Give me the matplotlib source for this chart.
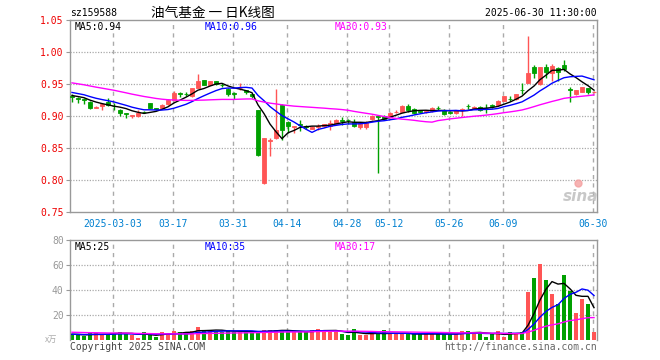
import matplotlib
matplotlib.use("Agg")
import matplotlib.pyplot as plt
from matplotlib.patches import Rectangle
import numpy as np

# ---------------- data ----------------
code = "sz159588"
title = "油气基金 一 日K线图"
stamp = "2025-06-30 11:30:00"

tick_labels = ["2025-03-03", "03-17", "03-31", "04-14", "04-28",
               "05-12", "05-26", "06-09", "06-30"]
tick_bars = [7, 17, 27, 36, 46, 53, 63, 72, 87]

opens = [0.931, 0.928, 0.926, 0.922, 0.913, 0.915, 0.922, 0.916, 0.910, 0.904,
         0.900, 0.900, 0.907, 0.920, 0.912, 0.912, 0.918, 0.925, 0.936, 0.935,
         0.931, 0.944, 0.956, 0.949, 0.954, 0.949, 0.942, 0.936, 0.943, 0.940,
         0.934, 0.909, 0.795, 0.861, 0.865, 0.917, 0.891, 0.883, 0.887, 0.884,
         0.880, 0.883, 0.884, 0.884, 0.888, 0.893, 0.894, 0.890, 0.883, 0.883,
         0.895, 0.900, 0.900, 0.898, 0.906, 0.907, 0.916, 0.911, 0.908, 0.907,
         0.908, 0.913, 0.910, 0.906, 0.904, 0.909, 0.916, 0.913, 0.914, 0.913,
         0.917, 0.917, 0.924, 0.927, 0.926, 0.941, 0.952, 0.977, 0.950, 0.976,
         0.967, 0.975, 0.980, 0.942, 0.934, 0.938, 0.943, 0.937]
highs = [0.934, 0.930, 0.928, 0.923, 0.915, 0.920, 0.928, 0.921, 0.911, 0.905,
         0.902, 0.909, 0.908, 0.921, 0.913, 0.918, 0.926, 0.939, 0.937, 0.937,
         0.944, 0.965, 0.957, 0.955, 0.955, 0.951, 0.943, 0.937, 0.951, 0.941,
         0.935, 0.910, 0.866, 0.865, 0.942, 0.918, 0.892, 0.885, 0.894, 0.886,
         0.884, 0.887, 0.888, 0.893, 0.896, 0.899, 0.896, 0.895, 0.890, 0.892,
         0.901, 0.902, 0.901, 0.906, 0.909, 0.917, 0.919, 0.912, 0.910, 0.910,
         0.914, 0.916, 0.911, 0.908, 0.910, 0.913, 0.918, 0.916, 0.915, 0.918,
         0.918, 0.925, 0.932, 0.931, 0.935, 0.951, 1.025, 0.980, 0.977, 0.982,
         0.982, 0.976, 0.987, 0.946, 0.941, 0.946, 0.944, 0.939]
lows = [0.922, 0.920, 0.918, 0.911, 0.912, 0.909, 0.915, 0.910, 0.900, 0.897,
        0.897, 0.898, 0.904, 0.912, 0.909, 0.911, 0.917, 0.924, 0.930, 0.931,
        0.930, 0.943, 0.948, 0.948, 0.949, 0.946, 0.931, 0.926, 0.941, 0.935,
        0.928, 0.838, 0.794, 0.838, 0.864, 0.862, 0.873, 0.873, 0.876, 0.880,
        0.879, 0.878, 0.883, 0.878, 0.887, 0.886, 0.887, 0.883, 0.880, 0.879,
        0.894, 0.811, 0.894, 0.897, 0.904, 0.906, 0.906, 0.903, 0.904, 0.905,
        0.907, 0.909, 0.902, 0.903, 0.903, 0.900, 0.911, 0.912, 0.908, 0.905,
        0.913, 0.916, 0.923, 0.923, 0.925, 0.934, 0.951, 0.959, 0.949, 0.959,
        0.954, 0.954, 0.970, 0.922, 0.933, 0.937, 0.935, 0.936]
closes = [0.930, 0.927, 0.925, 0.913, 0.914, 0.918, 0.917, 0.915, 0.905, 0.903,
          0.901, 0.905, 0.906, 0.913, 0.911, 0.917, 0.925, 0.936, 0.935, 0.934,
          0.943, 0.954, 0.949, 0.954, 0.950, 0.948, 0.934, 0.934, 0.944, 0.938,
          0.932, 0.839, 0.866, 0.862, 0.878, 0.878, 0.885, 0.884, 0.886, 0.883,
          0.883, 0.885, 0.888, 0.889, 0.893, 0.892, 0.893, 0.884, 0.889, 0.891,
          0.900, 0.899, 0.896, 0.904, 0.907, 0.916, 0.910, 0.904, 0.907, 0.908,
          0.913, 0.912, 0.903, 0.905, 0.909, 0.911, 0.915, 0.914, 0.909, 0.912,
          0.916, 0.924, 0.931, 0.926, 0.934, 0.940, 0.967, 0.967, 0.976, 0.969,
          0.978, 0.968, 0.973, 0.941, 0.940, 0.945, 0.938, 0.938]
volumes = [4.5, 4.0, 3.2, 5.3, 5.3, 4.5, 4.8, 5.9, 6.4, 5.3,
           4.0, 1.9, 6.4, 4.0, 2.7, 6.4, 4.5, 7.2, 6.4, 5.9,
           7.2, 10.4, 7.7, 7.2, 7.2, 6.7, 7.7, 6.7, 6.7, 6.4,
           6.4, 6.4, 8.0, 8.0, 8.0, 8.0, 6.4, 6.4, 6.4, 6.4,
           8.0, 8.8, 8.0, 6.7, 6.7, 4.8, 4.0, 8.8, 4.0, 4.0,
           4.8, 4.8, 8.0, 4.8, 4.8, 4.8, 4.8, 4.8, 4.8, 4.8,
           4.8, 4.8, 4.8, 4.8, 4.8, 7.2, 7.2, 5.6, 5.6, 2.4,
           4.8, 7.2, 2.4, 6.4, 4.8, 6.4, 38.7, 49.3, 60.8, 48.0,
           36.8, 28.8, 52.0, 39.2, 21.9, 32.8, 28.8, 6.7]

# sessions before the window (only feed the moving averages)
prior_closes = [0.972, 0.970, 0.968, 0.969, 0.966, 0.967, 0.964, 0.965, 0.962, 0.963,
                0.960, 0.961, 0.958, 0.958, 0.952, 0.950, 0.948, 0.946, 0.944, 0.942,
                0.945, 0.943, 0.942, 0.940, 0.938, 0.935, 0.934, 0.932, 0.929]
prior_volumes = [7.5, 7.0, 8.2, 6.8, 7.2, 7.9, 6.5, 7.1, 6.9, 7.4,
                 6.6, 7.0, 7.3, 6.8, 6.7, 7.2, 6.4, 6.9, 6.6, 6.2,
                 4.8, 4.3, 4.6, 4.5, 4.4, 4.9, 4.6, 4.7, 4.5]

ma_windows = [5, 10, 30]
ma_colors = ["#000000", "#0000ff", "#ff00ff"]

# ---------------- helpers ----------------
RED = "#ff5555"
GREEN = "#00a000"
W, H = 660, 360
MONO = "DejaVu Sans Mono"


def moving_average(prior, values, n):
    full = np.array(list(prior) + list(values), dtype=float)
    out = np.array([full[k - n + 1:k + 1].mean() for k in range(len(full))])
    return out[len(prior):]


def fx(px):
    return px / W


def fy(py):
    return 1 - py / H


n = len(closes)
idx = np.arange(n)
o = np.array(opens); c = np.array(closes)
hi = np.array(highs); lo = np.array(lows)
vol = np.array(volumes)
up = c >= o
colors = [RED if u else GREEN for u in up]

fig = plt.figure(figsize=(W / 100, H / 100), dpi=100)
fig.patch.set_facecolor("white")
ax = fig.add_axes([fx(70), fy(212), fx(527), 192 / H])
axv = fig.add_axes([fx(70), fy(340), fx(527), 100 / H])

xl = (-1 / 3, 87.5)
grid_c = "#aaaaaa"
for a in (ax, axv):
    a.set_xlim(*xl)
    for s in a.spines.values():
        s.set_color("#999999")
        s.set_linewidth(1.0)
    for t in tick_bars:
        a.axvline(t - 0.2, color=grid_c, lw=1.0, ls=(0, (3, 3)), zorder=0)

# ---- main panel ----
ax.set_ylim(0.75, 1.05)
for yv in [0.80, 0.85, 0.90, 0.95, 1.00]:
    ax.axhline(yv, color=grid_c, lw=0.9, ls=(0, (1, 1.2)), zorder=0)

ax.vlines(idx, lo, hi, colors=colors, lw=1.0, zorder=2)
bw = 0.78
for i in range(n):
    b = min(o[i], c[i])
    h = max(abs(c[i] - o[i]), 0.0004)
    ax.add_patch(Rectangle((i - bw / 2, b), bw, h, facecolor=colors[i],
                           edgecolor=colors[i], lw=0.6, zorder=3))

for w, col in zip(ma_windows, ma_colors):
    ax.plot(idx, moving_average(prior_closes, closes, w), color=col, lw=1.0, zorder=4)

yt = [0.75, 0.80, 0.85, 0.90, 0.95, 1.00, 1.05]
ax.set_yticks(yt)
ax.set_yticklabels([f"{v:.2f}" for v in yt], fontfamily=MONO, fontsize=7, color="#ee0000")
ax.tick_params(axis="y", length=3, width=0.8, color="#999999", pad=1.5)
ax.set_xticks([t - 0.2 for t in tick_bars])
ax.set_xticklabels(tick_labels, fontfamily=MONO, fontsize=7, color="#0080d0")
ax.tick_params(axis="x", length=0, pad=5)

ma_main = [moving_average(prior_closes, closes, w)[-1] for w in ma_windows]
for xp, w, col, v in zip([75, 205, 335], ma_windows, ma_colors, ma_main):
    fig.text(fx(xp), fy(26.5), f"MA{w}:{v:.2f}", color=col, fontsize=7,
             fontfamily=MONO, va="center", ha="left")

# sina watermark
ax.text(0.968, 0.08, "sina", transform=ax.transAxes, fontsize=11, fontweight="bold",
        style="italic", color="#bbbbbb", ha="center", va="center", alpha=0.8, zorder=1)
ax.plot([0.963], [0.15], transform=ax.transAxes, marker="o", ms=5,
        color="#f4a0a0", alpha=0.8, zorder=1)

# ---- volume panel ----
axv.set_ylim(0, 80)
for yv in [20, 40, 60]:
    axv.axhline(yv, color=grid_c, lw=0.9, ls=(0, (1, 1.2)), zorder=0)
axv.bar(idx, vol, width=0.83, color=colors, zorder=2, linewidth=0)
for w, col in zip(ma_windows, ma_colors):
    axv.plot(idx, moving_average(prior_volumes, volumes, w), color=col, lw=1.0, zorder=4)
axv.set_yticks([20, 40, 60, 80])
axv.set_yticklabels(["20", "40", "60", "80"], fontfamily=MONO, fontsize=7, color="#999999")
axv.tick_params(axis="y", length=3, width=0.8, color="#999999", pad=1.5)
axv.set_xticks([])
axv.spines["bottom"].set_visible(False)

ma_vol = [moving_average(prior_volumes, volumes, w)[-1] for w in ma_windows]
for xp, w, col, v in zip([75, 205, 335], ma_windows, ma_colors, ma_vol):
    fig.text(fx(xp), fy(246.5), f"MA{w}:{int(v)}", color=col, fontsize=7,
             fontfamily=MONO, va="center", ha="left")

# ---- header / footer texts ----
fig.text(fx(70), fy(13), code, fontsize=7, fontfamily=MONO, va="center", ha="left")
fig.text(fx(213), fy(13), title, fontsize=9.8, fontfamily=["Noto Sans CJK SC", "DejaVu Sans"],
         va="center", ha="center")
fig.text(fx(597), fy(13), stamp, fontsize=7, fontfamily=MONO, va="center", ha="right")
fig.text(fx(57), fy(339), "x万", fontsize=6, fontfamily=["Noto Sans CJK SC", "DejaVu Sans"],
         color="#aaaaaa", va="center", ha="right")
fig.text(fx(70), fy(347), "Copyright 2025 SINA.COM", fontsize=7, fontfamily=MONO,
         color="#444444", va="center", ha="left")
fig.text(fx(597), fy(347), "http://finance.sina.com.cn", fontsize=7, fontfamily=MONO,
         color="#666666", va="center", ha="right")

fig.savefig("out.png", dpi=100)
